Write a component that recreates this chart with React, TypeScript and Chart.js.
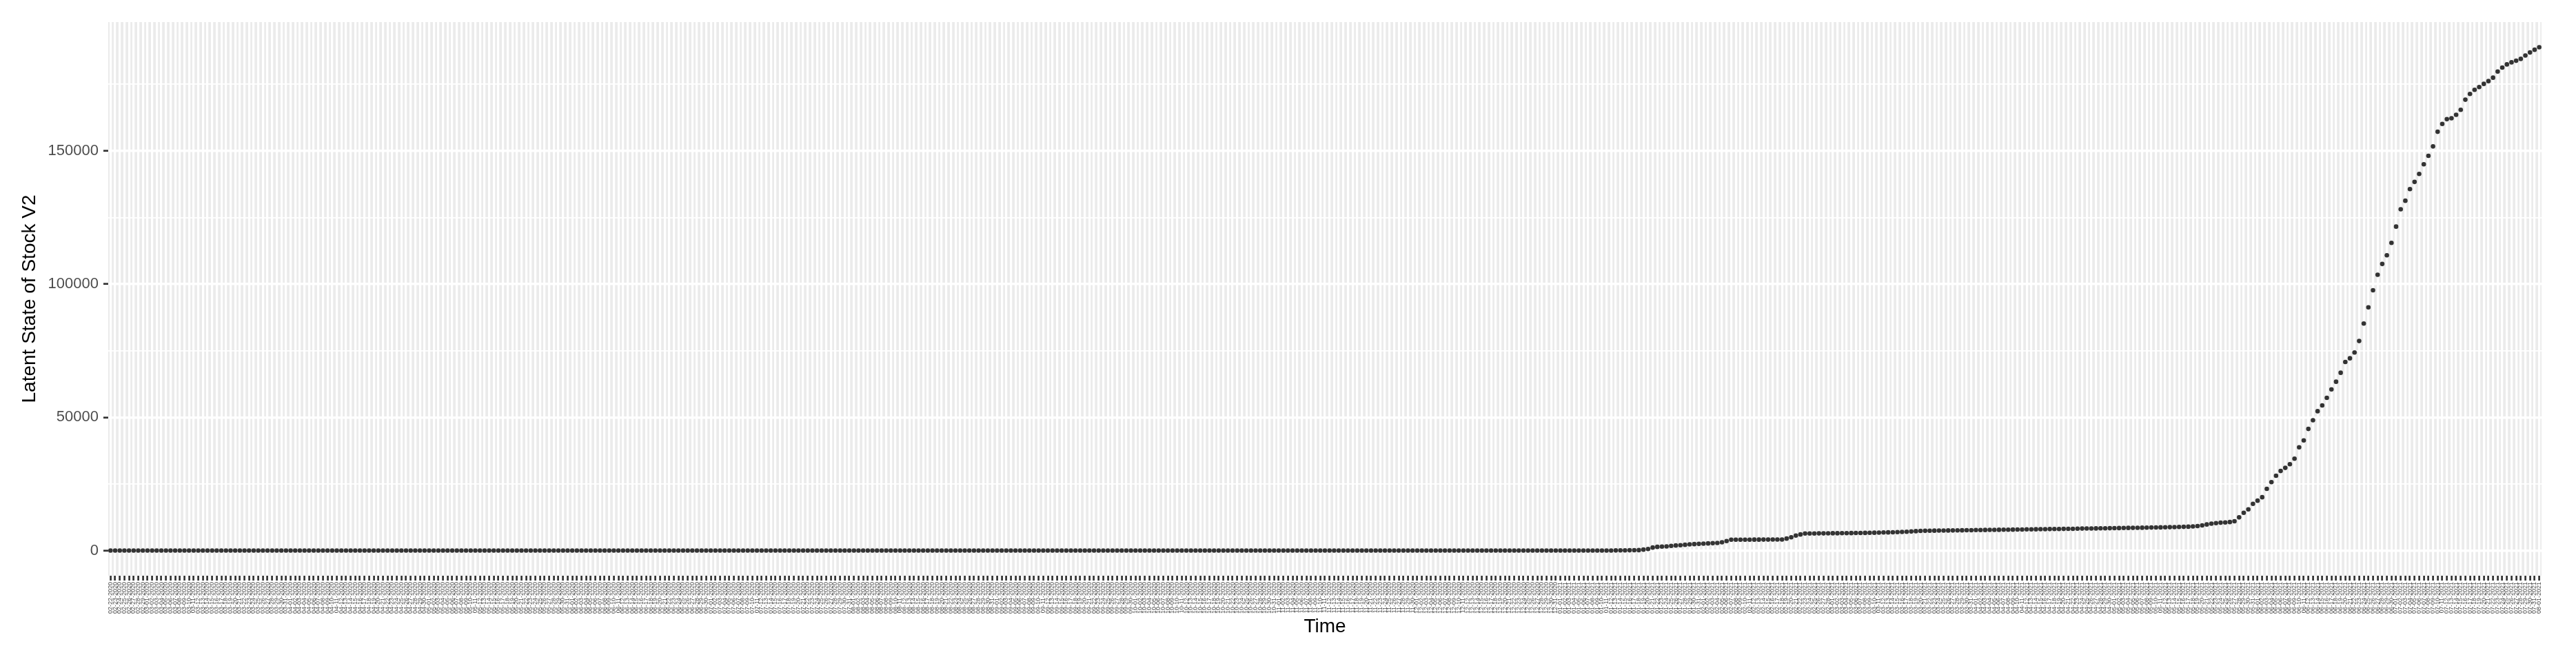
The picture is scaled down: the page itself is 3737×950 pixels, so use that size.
import React, { useEffect, useRef } from "react";
import { Chart, registerables } from "chart.js";

Chart.register(...registerables);

// ---------------- data ----------------
const START_DATE = "2020-02-22";

// days 0..330 : flat at (about) zero
const FLAT_PHASE = [
  0,0,0,0,0,0,0,0,0,0, 0,0,0,0,0,0,0,0,0,0, 0,0,0,0,0,0,0,0,0,0, 0,0,0,0,0,0,0,0,0,0,
  0,0,0,0,0,0,0,0,0,0, 0,0,0,0,0,0,0,0,0,0, 0,0,0,0,0,0,0,0,0,0, 0,0,0,0,0,0,0,0,0,0,
  0,0,0,0,0,0,0,0,0,0, 0,0,0,0,0,0,0,0,0,0, 0,0,0,0,0,0,0,0,0,0, 0,0,0,0,0,0,0,0,0,0,
  0,0,0,0,0,0,0,0,0,0, 0,0,0,0,0,0,0,0,0,0, 0,0,0,0,0,0,0,0,0,0, 0,0,0,0,0,0,0,0,0,0,
  0,0,0,0,0,0,0,0,0,0, 0,0,0,0,0,0,0,0,0,0, 0,0,0,0,0,0,0,0,0,0, 0,0,0,0,0,0,0,0,0,0,
  0,0,0,0,0,0,0,0,0,0, 0,0,0,0,0,0,0,0,0,0, 0,0,0,0,0,0,0,0,0,0, 0,0,0,0,0,0,0,0,0,0,
  0,0,0,0,0,0,0,0,0,0, 0,0,0,0,0,0,0,0,0,0, 0,0,0,0,0,0,0,0,0,0, 0,0,0,0,0,0,0,0,0,0,
  0,0,0,0,0,0,0,0,0,0, 0,0,0,0,0,0,0,0,0,0, 0,0,0,0,0,0,0,0,0,0, 0,0,0,0,0,0,0,0,0,0,
  0,0,0,0,0,0, 40, 60, 80, 100, 130,
];

// days 331..393 : first rise and steps
const EARLY_RISE = [
  150, 350, 600, 1120, 1380, 1470, 1550, 1730, 1900, 1990,
  2160, 2330, 2420, 2500, 2590, 2680, 2760, 2850, 3110, 3540,
  4060, 4070, 4080, 4080, 4090, 4100, 4100, 4110, 4120, 4130,
  4140, 4160, 4490, 5000, 5610, 6040, 6390, 6400, 6420, 6440,
  6450, 6470, 6490, 6500, 6520, 6540, 6560, 6580, 6600, 6630,
  6660, 6690, 6730, 6780, 6820, 6870, 6920, 6990, 7070, 7160,
  7270, 7380, 7420,
];

// days 394..460 : slow plateau
const PLATEAU = [
  7450, 7470, 7490, 7510, 7530, 7550,
  7580, 7600, 7620, 7650, 7680, 7700, 7730, 7750, 7770, 7790,
  7810, 7830, 7850, 7880, 7910, 7940, 7970, 7990, 8010, 8030,
  8060, 8080, 8100, 8120, 8140, 8170, 8200, 8250, 8270, 8290,
  8310, 8330, 8350, 8380, 8410, 8440, 8470, 8500, 8520, 8540,
  8570, 8600, 8640, 8670, 8700, 8730, 8770, 8800, 8850, 8900,
  8950, 9050, 9200, 9450, 9800, 10100, 10300, 10450, 10550, 10700,
  11000,
];

// days 461..526 : surge
const SURGE = [
  12460, 14180, 15460, 17530, 18730, 20020, 23150, 25700, 28060, 29870,
  31030, 32400, 34500, 38740, 41330, 45650, 48930, 52300, 54460, 57310,
  60510, 63360, 66730, 70790, 72170, 74330, 78650, 85220, 91300, 97680,
  103530, 107570, 110840, 115480, 121590, 128120, 131300, 135690, 138360, 141370,
  144980, 148160, 151690, 157190, 160110, 161920, 162260, 163550, 165450, 169230,
  171380, 172930, 173960, 175160, 176200, 177490, 179810, 181270, 182470, 183250,
  183850, 184540, 185830, 186950, 187980, 188920,
];

const Y_TICKS = [0, 50000, 100000, 150000];
const Y_MINOR = [25000, 75000, 125000, 175000];
const X_TITLE = "Time";
const Y_TITLE = "Latent State of Stock V2";

// ---------------- helpers ----------------
const VALUES = [...FLAT_PHASE, ...EARLY_RISE, ...PLATEAU, ...SURGE];

function buildDateLabels(start: string, n: number): string[] {
  const [y, m, d] = start.split("-").map(Number);
  const base = Date.UTC(y, m - 1, d);
  const out: string[] = [];
  for (let i = 0; i < n; i++) {
    const dt = new Date(base + i * 86400000);
    const mm = String(dt.getUTCMonth() + 1).padStart(2, "0");
    const dd = String(dt.getUTCDate()).padStart(2, "0");
    out.push(`${mm}-${dd}-${dt.getUTCFullYear()}`);
  }
  return out;
}

const LABELS = buildDateLabels(START_DATE, VALUES.length);

const W = 3737;
const H = 950;
const PANEL_LEFT = 157;
const PANEL_RIGHT = 3687;
const PANEL_TOP = 32;
const PANEL_BOTTOM = 835;
const FONT = "'Liberation Sans', Arial, Helvetica, sans-serif";

const isMajor = (v: number) => Y_TICKS.includes(v);

export default function App() {
  const ref = useRef<HTMLCanvasElement | null>(null);

  useEffect(() => {
    if (!ref.current) return;
    Chart.defaults.font.family = FONT;

    const dMin = Math.min(...VALUES);
    const dMax = Math.max(...VALUES);
    const pad = (dMax - dMin) * 0.05;

    const panelBg = {
      id: "panelBg",
      beforeDraw(chart: any) {
        const { ctx, chartArea } = chart;
        ctx.save();
        ctx.fillStyle = "#EBEBEB";
        ctx.fillRect(chartArea.left, chartArea.top, chartArea.right - chartArea.left, chartArea.bottom - chartArea.top);
        ctx.restore();
      },
    };

    const chart = new Chart(ref.current, {
      type: "line",
      data: {
        labels: LABELS,
        datasets: [
          {
            data: VALUES,
            showLine: false,
            pointRadius: 3.3,
            pointHoverRadius: 3.3,
            pointBackgroundColor: "#333333",
            pointBorderWidth: 0,
            borderColor: "#333333",
          },
        ],
      },
      options: {
        responsive: false,
        animation: false,
        events: [],
        layout: { padding: { left: 0, top: PANEL_TOP, right: W - PANEL_RIGHT, bottom: 0 } },
        plugins: { legend: { display: false }, tooltip: { enabled: false } },
        scales: {
          x: {
            type: "category",
            offset: true,
            grid: {
              color: "#FFFFFF",
              lineWidth: 3.2,
              offset: false,
              drawTicks: true,
              tickLength: 7,
              tickColor: "#333333",
              tickWidth: 2.7,
            },
            border: { display: false },
            ticks: {
              autoSkip: false,
              minRotation: 90,
              maxRotation: 90,
              font: { family: FONT, size: 9 },
              color: "#4D4D4D",
              padding: 2,
            },
            title: {
              display: true,
              text: X_TITLE,
              font: { family: FONT, size: 28 },
              color: "#000000",
              padding: { top: 0, bottom: 24 },
            },
            afterFit: (s: any) => {
              s.height = H - PANEL_BOTTOM;
              s.paddingLeft = 0;
              s.paddingRight = 0;
            },
          },
          y: {
            type: "linear",
            min: dMin - pad,
            max: dMax + pad,
            afterBuildTicks: (s: any) => {
              s.ticks = [...Y_TICKS, ...Y_MINOR].sort((a, b) => a - b).map((v) => ({ value: v }));
            },
            ticks: {
              callback: (v: any) => (isMajor(Number(v)) ? String(v) : ""),
              font: { family: FONT, size: 22 },
              color: "#4D4D4D",
              padding: 7,
            },
            grid: {
              color: "#FFFFFF",
              lineWidth: (c: any) => (c.tick && isMajor(c.tick.value) ? 3.4 : 1.7),
              tickLength: 7,
              tickColor: (c: any) => (c.tick && isMajor(c.tick.value) ? "#333333" : "rgba(0,0,0,0)"),
              tickWidth: 2.7,
            },
            border: { display: false },
            title: {
              display: true,
              text: Y_TITLE,
              font: { family: FONT, size: 28 },
              color: "#000000",
              padding: { top: 26, bottom: 0 },
            },
            afterFit: (s: any) => {
              s.width = PANEL_LEFT;
              s.paddingTop = 0;
              s.paddingBottom = 0;
            },
          },
        },
      } as any,
      plugins: [panelBg],
    });

    return () => chart.destroy();
  }, []);

  return (
    <div style={{ position: "absolute", left: 0, top: 0, width: W, height: H, background: "#FFFFFF" }}>
      <canvas ref={ref} width={W} height={H} style={{ display: "block", width: W, height: H }} />
    </div>
  );
}
